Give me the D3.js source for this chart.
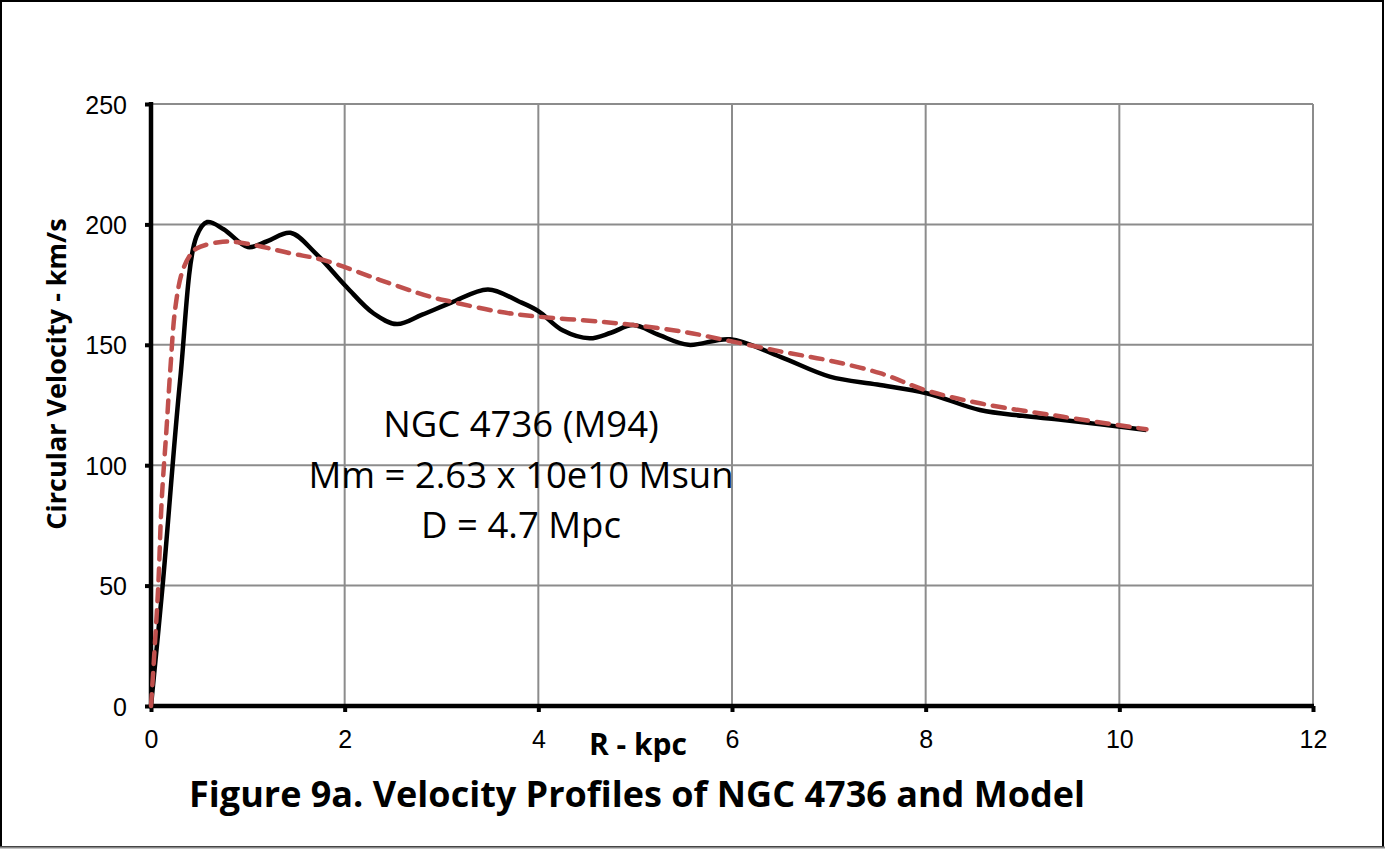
<!DOCTYPE html>
<html>
<head>
<meta charset="utf-8">
<script src="https://cdn.jsdelivr.net/npm/d3@7"></script>
<style>
html,body{margin:0;padding:0;background:#fff;}
svg{display:block;}
</style>
</head>
<body>
<svg id="chart" width="1385" height="849"></svg>
<script>
// Observed rotation curve (black, solid)
const obsR = [0, 0.12, 0.30, 0.47, 0.58, 0.75, 1.0, 1.2, 1.44, 1.7, 2.02, 2.3, 2.54, 2.8, 3.1, 3.48, 3.8, 4.0, 4.25, 4.53, 4.75, 4.98, 5.25, 5.55, 5.98, 6.5, 7.01, 7.5, 8.01, 8.56, 9.0, 9.42, 10.28];
const obsV = [0, 50, 135, 195, 201, 198, 190.6, 193, 196.5, 188, 174, 163, 158.6, 162.5, 167.5, 173, 168, 164, 156, 152.7, 155, 158.2, 154, 150, 152.3, 145, 136.8, 133.5, 129.9, 122.9, 120.5, 118.8, 114.6];
// Model curve (red, dashed)
const modR = [0, 0.03, 0.075, 0.11, 0.16, 0.2, 0.25, 0.32, 0.4, 0.47, 0.74, 0.99, 1.44, 1.78, 2.36, 2.88, 3.09, 3.6, 4.0, 4.64, 4.98, 5.5, 6.01, 6.53, 7.0, 7.53, 8.01, 8.56, 9.42, 10.28];
const modV = [0, 19, 50, 85, 115, 140, 165, 180, 187, 190, 192.8, 192, 188, 185.2, 177, 170, 168, 163.7, 161.7, 159.6, 158.2, 155.4, 151.3, 147, 143.5, 138.2, 131, 125.7, 120.1, 114.9];
const xTicks = [0, 2, 4, 6, 8, 10, 12];
const yTicks = [0, 50, 100, 150, 200, 250];
const annotation = ["NGC 4736 (M94)", "Mm = 2.63 x 10e10 Msun", "D = 4.7 Mpc"];
const xTitle = "R - kpc";
const yTitle = "Circular Velocity - km/s";
const figTitle = "Figure 9a. Velocity Profiles of NGC 4736 and Model";

const svg = d3.select("#chart");
const W = 1385, H = 849;
const L = 151, R = 1313, T = 104, B = 706;

const x = d3.scaleLinear().domain([0, 12]).range([L, R]);
const y = d3.scaleLinear().domain([0, 250]).range([B, T]);

// outer frame
svg.append("rect").attr("x", 1).attr("y", 1).attr("width", W - 3).attr("height", H - 3)
  .attr("fill", "#fff").attr("stroke", "#000").attr("stroke-width", 2);
svg.append("line").attr("x1", 0).attr("x2", W).attr("y1", H - 1.5).attr("y2", H - 1.5)
  .attr("stroke", "#888").attr("stroke-width", 2);

// gridlines
const grid = svg.append("g");
grid.selectAll("line.h").data(yTicks.filter(d => d > 0)).join("line")
  .attr("x1", L).attr("x2", R).attr("y1", d => y(d)).attr("y2", d => y(d))
  .attr("stroke", "#8c8c8c").attr("stroke-width", 2);
grid.selectAll("line.v").data(xTicks.filter(d => d > 0)).join("line")
  .attr("x1", d => x(d)).attr("x2", d => x(d)).attr("y1", T).attr("y2", B)
  .attr("stroke", "#8c8c8c").attr("stroke-width", 2);

// axes
const xAxis = d3.axisBottom(x).tickValues(xTicks).tickSize(6).tickFormat(d3.format("d"));
const yAxis = d3.axisLeft(y).tickValues(yTicks).tickSize(6).tickFormat(d3.format("d"));

const gx = svg.append("g").attr("transform", `translate(0,${B})`).call(xAxis);
gx.select(".domain").remove();
gx.attr("font-size", null).attr("font-family", null);
gx.selectAll(".tick line").attr("stroke", "#000").attr("stroke-width", 4);
gx.selectAll(".tick text").style("font-family", "'Liberation Sans', Arial, sans-serif")
  .style("font-size", "25px").attr("fill", "#000").attr("dy", "0").attr("y", 42);

const gy = svg.append("g").attr("transform", `translate(${L},0)`).call(yAxis);
gy.select(".domain").remove();
gy.attr("font-size", null).attr("font-family", null);
gy.selectAll(".tick line").attr("stroke", "#000").attr("stroke-width", 4);
gy.selectAll(".tick text").style("font-family", "'Liberation Sans', Arial, sans-serif")
  .style("font-size", "25px").attr("fill", "#000").attr("x", -24).attr("dy", "0.36em");

// axis lines (thick)
svg.append("line").attr("x1", L).attr("x2", L).attr("y1", T - 2).attr("y2", B + 2)
  .attr("stroke", "#000").attr("stroke-width", 4.5);
svg.append("line").attr("x1", L - 2).attr("x2", R + 1).attr("y1", B).attr("y2", B)
  .attr("stroke", "#000").attr("stroke-width", 4.5);

const line = d3.line().x(d => x(d[0])).y(d => y(d[1])).curve(d3.curveCatmullRom.alpha(0.5));

const modData = modR.map((r, i) => [r, modV[i]]);
const obsData = obsR.map((r, i) => [r, obsV[i]]);

svg.append("path").attr("d", line(obsData)).attr("fill", "none")
  .attr("stroke", "#000").attr("stroke-width", 4.5).attr("stroke-linejoin", "round");
svg.append("path").attr("d", line(modData)).attr("fill", "none")
  .attr("stroke", "#C0504D").attr("stroke-width", 4.5).attr("stroke-dasharray", "12,9")
  .attr("stroke-linecap", "round");

// annotation
const ann = svg.append("g").style("font-family", "'Open Sans', sans-serif").style("font-size", "36.5px").attr("fill", "#000");
const annY = [437, 488, 538];
annotation.forEach((t, i) => {
  ann.append("text").attr("x", 521).attr("y", annY[i]).attr("text-anchor", "middle").text(t);
});

// axis titles
svg.append("text").attr("x", 638).attr("y", 755).attr("text-anchor", "middle")
  .style("font-family", "'Open Sans', sans-serif").style("font-weight", "bold").style("font-size", "30px")
  .text(xTitle);
svg.append("text").attr("transform", `translate(66,374) rotate(-90)`).attr("text-anchor", "middle")
  .style("font-family", "'Open Sans', sans-serif").style("font-weight", "bold").style("font-size", "27px")
  .text(yTitle);
svg.append("text").attr("x", 637).attr("y", 807).attr("text-anchor", "middle")
  .style("font-family", "'Open Sans', sans-serif").style("font-weight", "bold").style("font-size", "36px")
  .text(figTitle);
</script>
</body>
</html>
